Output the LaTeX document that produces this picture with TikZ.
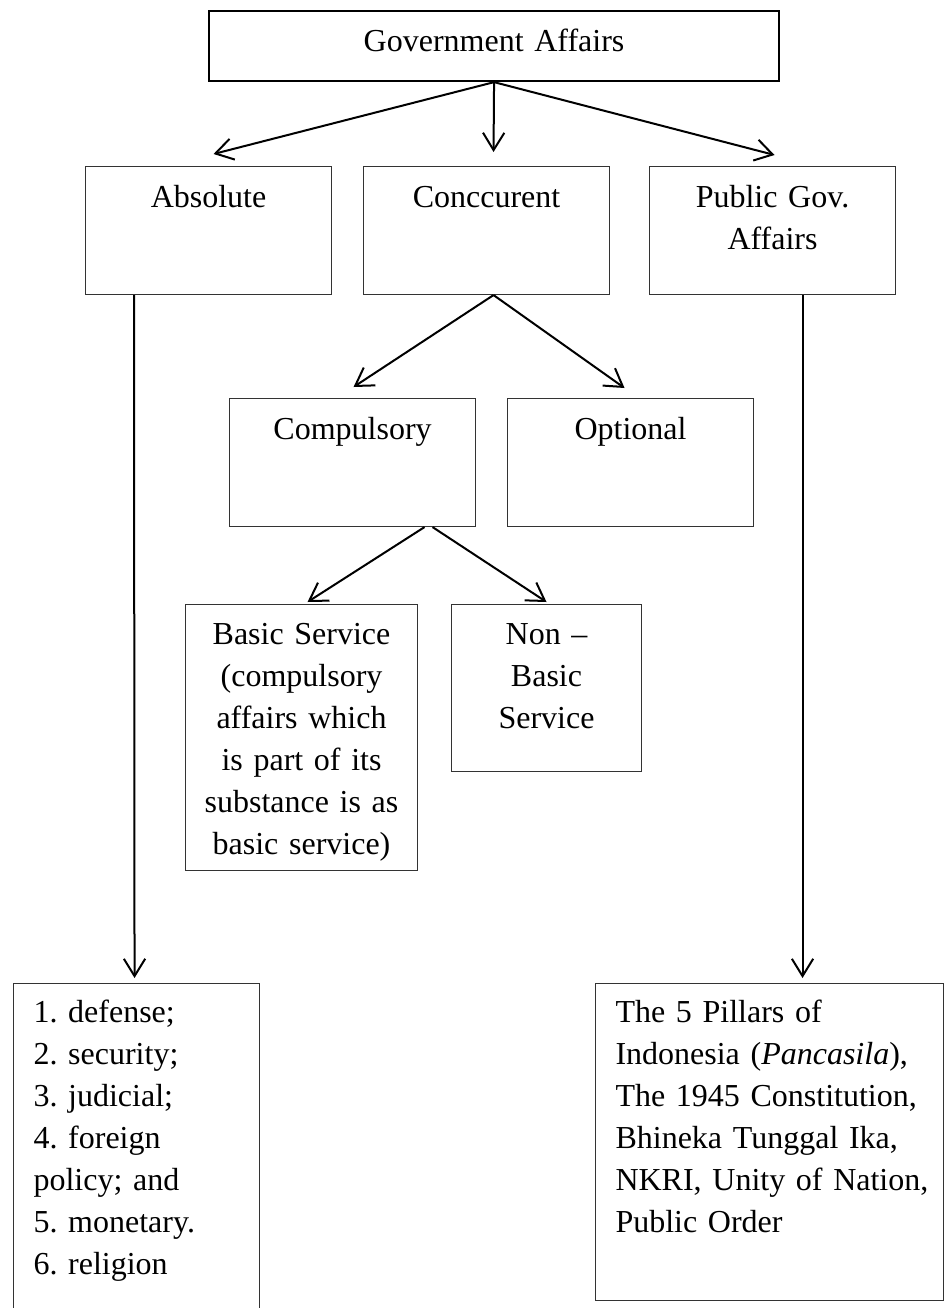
\documentclass[tikz,border=0pt]{standalone}
\usepackage{fontspec}
\setmainfont{Liberation Serif}
\usetikzlibrary{arrows.meta}
\frenchspacing

\begin{document}
\begin{tikzpicture}[
  x=0.375pt, y=-0.375pt,
  font=\fontsize{12pt}{15.75pt}\selectfont,
  block/.style={rectangle, draw=black!80, line width=0.4pt, anchor=north west, inner xsep=0pt, inner ysep=0pt, align=center},
  head/.style={block, draw=black, line width=0.8pt},
  tier/.style={block, text width=92.25pt, text height=15.5pt, text depth=32.5pt},
  listbox/.style={block, inner xsep=7.5pt, align=left, text height=14.6pt},
  arrow/.style={-{Straight Barb[length=6.5pt,width=8pt]}, line width=0.75pt}
]
  \useasboundingbox (0,0) rectangle (946,1308);

  \node[head, text width=213.75pt, text height=15pt, text depth=11.25pt] (gov) at (208,10) {Government Affairs};
  \node[tier] (abs) at (85,166) {Absolute};
  \node[tier] (conc) at (363,166) {Conccurent};
  \node[tier] (pub) at (649,166) {Public Gov.\\Affairs};
  \node[tier] (comp) at (229,398) {Compulsory};
  \node[tier] (opt) at (507,398) {Optional};
  \node[block, text width=87pt, text height=15pt, text depth=84.75pt] (basic) at (185,604)
    {Basic Service\\(compulsory\\affairs which\\is part of its\\substance is as\\basic service)};
  \node[block, text width=71.25pt, text height=15pt, text depth=47.6pt] (nonbasic) at (451,604)
    {Non --\\Basic\\Service};
  \node[listbox, text width=77.25pt, text depth=111pt] (list) at (13,983)
    {1. defense;\\2. security;\\3. judicial;\\4. foreign\\policy; and\\5. monetary.\\6. religion};
  \node[listbox, text width=115.5pt, text depth=104.3pt] (pillars) at (595,983)
    {The 5 Pillars of\\Indonesia (\textit{Pancasila}),\\\mbox{The 1945 Constitution,}\\Bhineka Tunggal Ika,\\\mbox{NKRI, Unity of Nation,}\\Public Order};

  \draw[arrow] (gov.south) -- ([shift={(5,-12)}]abs.north);
  \draw[arrow] (gov.south) -- ([shift={(7,-14)}]conc.north);
  \draw[arrow] (gov.south) -- ([shift={(2,-11)}]pub.north);
  \draw[arrow] ([shift={(7,0)}]conc.south) -- ([shift={(1,-11)}]comp.north);
  \draw[arrow] ([shift={(7,0)}]conc.south) -- ([shift={(-6,-10)}]opt.north);
  \draw[arrow] ([shift={(72,0)}]comp.south) -- ([shift={(6,-2)}]basic.north);
  \draw[arrow] ([shift={(80,0)}]comp.south) -- ([shift={(0,-2)}]nonbasic.north);
  \draw[arrow] ([shift={(49,0)}]abs.south west) -- ([shift={(-2,-5)}]list.north);
  \draw[arrow] ([shift={(30,0)}]pub.south) -- ([shift={(33,-5)}]pillars.north);
\end{tikzpicture}
\end{document}
